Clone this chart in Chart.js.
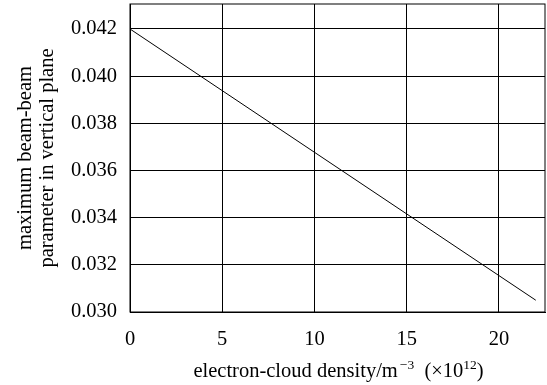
<!DOCTYPE html>
<html>
<head>
<meta charset="utf-8">
<script src="https://cdn.jsdelivr.net/npm/chart.js@4/dist/chart.umd.min.js"></script>
<style>
  html, body { margin: 0; padding: 0; background: #fff; }
  canvas { display: block; }
</style>
</head>
<body>
<canvas id="chart" width="547" height="385"></canvas>
<script>
// data
const densities = [0, 22];          // ×10^12 m^-3
const beamBeam = [0.042, 0.0305];   // max beam-beam parameter, vertical plane
// x title pieces: [text, superscript?, gap before]
const xTitleParts = [['electron-cloud density/m', false, 0], ['\u22123', true, 2], ['  (\u00D710', false, 0], ['12', true, 0], [')', false, 0]];
const yTitle = ['maximum beam-beam', 'parameter in vertical plane'];

const serif = '"Liberation Serif", "Times New Roman", serif';

// box round the plot area + x title with real superscripts
const frame = {
  id: 'frame',
  afterDraw(chart) {
    const { ctx, chartArea: a } = chart;
    ctx.save();
    ctx.strokeStyle = '#000';
    ctx.lineWidth = 1;
    ctx.strokeRect(a.left, a.top, a.right - a.left, a.bottom - a.top);

    const big = '20.5px ' + serif, small = '13.5px ' + serif;
    let w = 0;
    xTitleParts.forEach(([t, sup, gap]) => { ctx.font = sup ? small : big; w += ctx.measureText(t).width + gap; });
    let x = (a.left + a.right) / 2 - w / 2 + 1;
    const base = 377;
    ctx.fillStyle = '#000';
    ctx.textBaseline = 'alphabetic';
    ctx.textAlign = 'left';
    xTitleParts.forEach(([t, sup, gap]) => {
      ctx.font = sup ? small : big;
      x += gap;
      ctx.fillText(t, x, sup ? base - 8 : base);
      x += ctx.measureText(t).width;
    });
    ctx.restore();
  }
};

new Chart(document.getElementById('chart'), {
  type: 'scatter',
  data: {
    datasets: [{
      data: densities.map((x, i) => ({ x, y: beamBeam[i] })),
      showLine: true,
      borderColor: '#000',
      borderWidth: 1,
      pointRadius: 0,
      fill: false,
    }],
  },
  options: {
    responsive: false,
    animation: false,
    layout: { padding: { top: 4, right: 2, left: 0, bottom: 0 } },
    plugins: { legend: { display: false }, tooltip: { enabled: false } },
    scales: {
      x: {
        type: 'linear',
        min: 0, max: 22.5,
        afterFit(s) { s.height = 73; s.paddingLeft = 0; s.paddingRight = 0; },
        ticks: {
          stepSize: 5, includeBounds: false, padding: 15,
          color: '#000', font: { family: serif, size: 20.5 },
        },
        grid: { color: '#000', lineWidth: 1, drawTicks: false },
        border: { color: '#000' },
        title: { display: false },
      },
      y: {
        min: 0.030, max: 0.04306,
        afterFit(s) { s.width = 130; s.paddingTop = 0; s.paddingBottom = 0; },
        ticks: {
          stepSize: 0.002, includeBounds: false, padding: 13,
          color: '#000', font: { family: serif, size: 20.5 },
          callback: v => v.toFixed(3),
        },
        grid: { color: '#000', lineWidth: 1, drawTicks: false },
        border: { color: '#000' },
        title: {
          display: true, text: yTitle, color: '#000',
          font: { family: serif, size: 20.5, lineHeight: 1.1 }, padding: { top: 14, bottom: 0 },
        },
      },
    },
  },
  plugins: [frame],
});
</script>
</body>
</html>
